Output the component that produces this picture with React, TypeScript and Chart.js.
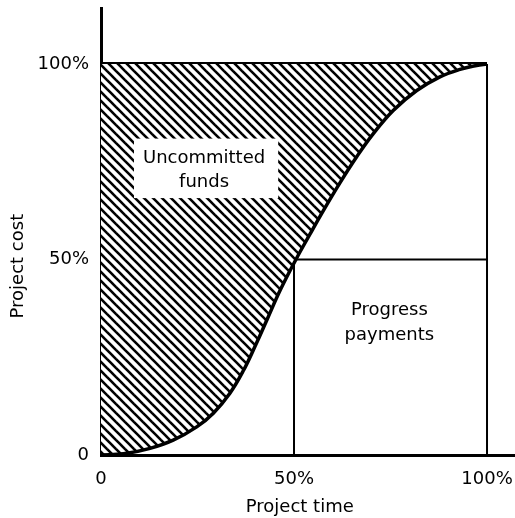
import React, { useEffect, useRef } from "react";
import { Chart, registerables } from "chart.js";

Chart.register(...registerables);

// ---- data (percent of project time / project cost) ----
const timePct = [0, 5.8, 12.7, 18.7, 24.8, 29.1, 33.4, 36.9, 40, 43, 46.5, 50.5, 54.1, 57.6, 61.9, 66.2, 70.5, 75.7, 81.8, 87.8, 93, 97.3, 100];
const costPct = [0, 0.3, 1.7, 3.8, 7.2, 10.7, 15.8, 21.6, 28, 34.6, 42.3, 50, 56.4, 62.5, 69.6, 76.2, 82.1, 88.1, 93.2, 96.7, 98.6, 99.6, 100];

const xTickValues = [0, 50, 100];
const xTickLabels = ["0", "50%", "100%"];
const yTickValues = [0, 50, 100];
const yTickLabels = ["0", "50%", "100%"];

const frameMax = 100;
const frameMid = 50;

const xTitle = "Project time";
const yTitle = "Project cost";

const uncommittedLines = ["Uncommitted", "funds"];
const progressLines = ["Progress", "payments"];

// axis extents (beyond 100%)
const xAxisMax = 107.25;
const yAxisMax = 114.3;

const FONT = "'DejaVu Sans', 'Liberation Sans', Arial, sans-serif";

function makeHatch(): CanvasPattern | string {
  const s = 9;
  const c = document.createElement("canvas");
  c.width = s;
  c.height = s;
  const g = c.getContext("2d");
  if (!g) return "rgba(0,0,0,0.4)";
  g.fillStyle = "#fff";
  g.fillRect(0, 0, s, s);
  g.strokeStyle = "#000";
  g.lineWidth = 2.6;
  for (const off of [-s, 0, s]) {
    g.beginPath();
    g.moveTo(-2, -2 + off);
    g.lineTo(s + 2, s + 2 + off);
    g.stroke();
  }
  const p = g.createPattern(c, "repeat");
  return p || "rgba(0,0,0,0.4)";
}

function zeroPadding(s: any) {
  s.paddingLeft = 0;
  s.paddingRight = 0;
  s.paddingTop = 0;
  s.paddingBottom = 0;
}

export default function App() {
  const ref = useRef<HTMLCanvasElement | null>(null);

  useEffect(() => {
    if (!ref.current) return;
    const hatch = makeHatch();

    const curve = timePct.map((t, i) => ({ x: t, y: costPct[i] }));
    const topEdge = [{ x: 0, y: frameMax }, { x: frameMax, y: frameMax }];
    const rightEdge = [{ x: frameMax, y: 0 }, { x: frameMax, y: frameMax }];
    const midVertical = [{ x: frameMid, y: 0 }, { x: frameMid, y: frameMax }];
    const midHorizontal = [{ x: 0, y: frameMid }, { x: frameMax, y: frameMid }];

    const regionLabels = [
      { lines: uncommittedLines, x: 26.7, y: 73.3, boxed: true },
      { lines: progressLines, x: 74.7, y: 34.3, boxed: false },
    ];

    const labelPlugin = {
      id: "regionLabels",
      afterDatasetsDraw(chart: any) {
        const { ctx, scales } = chart;
        const xs = scales.x;
        const ys = scales.y;
        ctx.save();
        ctx.font = `18px ${FONT}`;
        ctx.textAlign = "center";
        ctx.textBaseline = "alphabetic";
        const lh = 24.5;
        regionLabels.forEach((l) => {
          const cx = xs.getPixelForValue(l.x);
          const cy = ys.getPixelForValue(l.y);
          const n = l.lines.length;
          if (l.boxed) {
            const w = Math.max(...l.lines.map((t: string) => ctx.measureText(t).width)) + 22;
            const h = (n - 1) * lh + 35;
            ctx.fillStyle = "#fff";
            ctx.fillRect(cx - w / 2 + 2, cy - h / 2, w, h);
          }
          ctx.fillStyle = "#000";
          l.lines.forEach((t: string, i: number) => {
            ctx.fillText(t, cx, cy + 6.5 + (i - (n - 1) / 2) * lh);
          });
        });
        // axis titles
        ctx.fillStyle = "#000";
        ctx.fillText(xTitle, xs.getPixelForValue(51.5), 511.5);
        ctx.save();
        ctx.translate(22.5, ys.getPixelForValue(48.3));
        ctx.rotate(-Math.PI / 2);
        ctx.fillText(yTitle, 0, 0);
        ctx.restore();
        ctx.restore();
      },
    };

    const lineDs = (data: any[], width: number) => ({
      data,
      borderColor: "#000",
      borderWidth: width,
      pointRadius: 0,
      fill: false,
      tension: 0,
    });

    const chart = new Chart(ref.current, {
      type: "line",
      data: {
        datasets: [
          {
            data: curve,
            borderColor: "#000",
            borderWidth: 3.5,
            pointRadius: 0,
            tension: 0.4,
            fill: { value: frameMax },
            backgroundColor: hatch as any,
          } as any,
          lineDs(topEdge, 4),
          lineDs(rightEdge, 2),
          lineDs(midVertical, 2),
          lineDs(midHorizontal, 2),
        ],
      },
      options: {
        animation: false,
        responsive: true,
        maintainAspectRatio: false,
        layout: { padding: { top: 8, right: 0, left: 0, bottom: 0 } },
        plugins: {
          legend: { display: false },
          tooltip: { enabled: false },
        },
        events: [],
        scales: {
          x: {
            type: "linear",
            min: 0,
            max: xAxisMax,
            grid: { display: false, drawTicks: false },
            border: { display: true, width: 3, color: "#000" },
            afterBuildTicks: (s: any) => {
              s.ticks = xTickValues.map((v) => ({ value: v }));
            },
            afterFit: (s: any) => {
              s.height = 63;
              zeroPadding(s);
            },
            ticks: {
              autoSkip: false,
              maxRotation: 0,
              padding: 14,
              color: "#000",
              font: { family: FONT, size: 18 },
              callback: (v: any) => xTickLabels[xTickValues.indexOf(Number(v))] ?? "",
            },
          },
          y: {
            type: "linear",
            min: 0,
            max: yAxisMax,
            grid: { display: false, drawTicks: false },
            border: { display: true, width: 3, color: "#000" },
            afterBuildTicks: (s: any) => {
              s.ticks = yTickValues.map((v) => ({ value: v }));
            },
            afterFit: (s: any) => {
              s.width = 101;
              zeroPadding(s);
            },
            ticks: {
              autoSkip: false,
              padding: 12,
              color: "#000",
              font: { family: FONT, size: 18 },
              callback: (v: any) => yTickLabels[yTickValues.indexOf(Number(v))] ?? "",
            },
          },
        },
      },
      plugins: [labelPlugin],
    });

    return () => chart.destroy();
  }, []);

  return (
    <div style={{ position: "absolute", left: 0, top: 0, width: 515, height: 518, background: "#fff" }}>
      <canvas ref={ref} />
    </div>
  );
}
